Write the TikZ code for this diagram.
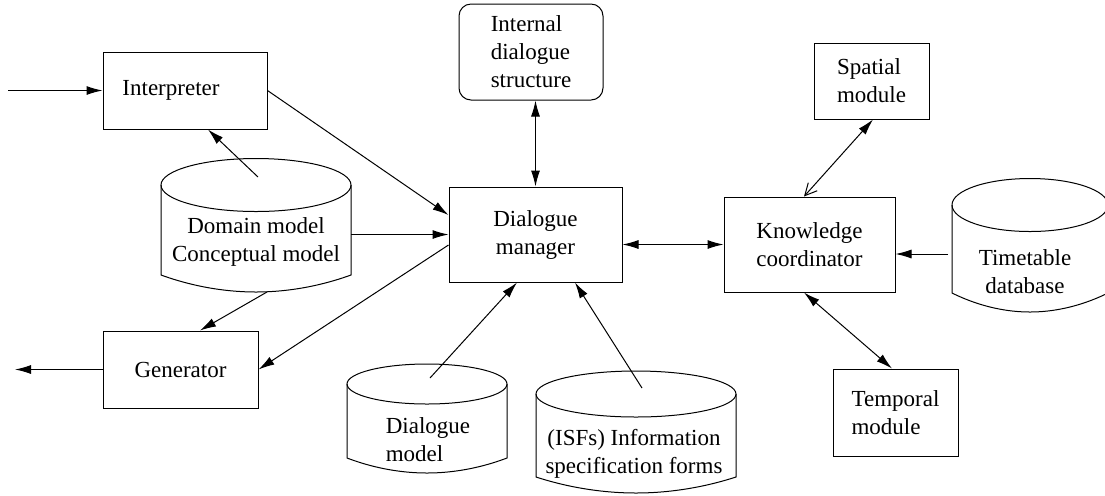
\documentclass[tikz,border=0pt]{standalone}
\usepackage{fontspec}
\setmainfont{Liberation Serif}
\usetikzlibrary{shapes,arrows.meta}

\begin{document}
\begin{tikzpicture}[x=0.5pt,y=-0.5pt,line width=0.5pt,
        box/.style={draw=black,rectangle,align=center,font=\fontsize{11.5}{14}\selectfont},
        txt/.style={align=center,font=\fontsize{11.5}{14}\selectfont},
        arr/.style={-{Latex[length=8pt,width=4.5pt]}},
        biarr/.style={{Latex[length=8pt,width=4.5pt]}-{Latex[length=8pt,width=4.5pt]}}]
        \useasboundingbox (0,0) rectangle (1105,495);
        \clip (0,0) rectangle (1105,495);
        \node [box,minimum width=82pt,minimum height=38.5pt] (interp) at (185,90.5) {Interpreter\hspace*{14pt}};
        \node [box,minimum width=77.5pt,minimum height=38.5pt] (gen) at (180.5,369.5) {Generator};
        \node [box,rounded corners=6pt,align=left,minimum width=72pt,minimum height=48pt] (ids) at (531,52) {Internal\\dialogue\\structure};
        \node [box,minimum width=86.5pt,minimum height=47.5pt] (dm) at (535.5,234.5) {Dialogue\\manager};
        \node [box,minimum width=85.5pt,minimum height=47.5pt] (kc) at (809.5,244.5) {Knowledge\\coordinator};
        \node [box,align=left,minimum width=57.5pt,minimum height=38pt] (spatial) at (871.5,81) {Spatial\\module};
        \node [box,align=left,minimum width=62.5pt,minimum height=43.5pt] (temporal) at (895.5,412.5) {Temporal\\module};
        \draw [black] (256,185) ellipse (95 and 26.5);
        \draw [black] (161,185) -- (161,275) parabola bend (256,292) (351,275) -- (351,185);
        \node [txt] (domtxt) at (256,242) {Domain model\\Conceptual model};
        \draw [black] (1030,205) ellipse (78 and 26.5);
        \draw [black] (952,205) -- (952,293) parabola bend (1030,312) (1108,293) -- (1108,205);
        \node [txt] (tttxt) at (1025,272) {Timetable\\database};
        \draw [black] (427,384) ellipse (80 and 20);
        \draw [black] (347,384) -- (347,458) parabola bend (427,473) (507,458) -- (507,384);
        \node [txt,align=left] (dmodtxt) at (428,440) {Dialogue\\model};
        \draw [black] (636,394) ellipse (100 and 23);
        \draw [black] (536,394) -- (536,477) parabola bend (636,493) (736,477) -- (736,394);
        \node [txt] (isftxt) at (634,454) {(ISFs) Information\\specification forms};
        \coordinate (input) at (8,90.5);
        \coordinate (output) at (15,369.5);
        \coordinate (domtop) at (258,177);
        \coordinate (dombot) at (267,292);
        \coordinate (domright) at (351,234.5);
        \coordinate (ttleft) at (948,254);
        \coordinate (dmodtop) at (430,378);
        \coordinate (isftop) at (642,388);
        \draw [black,arr] (input) -- (interp.west);
        \draw [black,arr] (interp.east) -- ([yshift=9.75pt]dm.west);
        \draw [black,arr] (domtop) -- ([xshift=11.5pt]interp.south);
        \draw [black,arr] (domright) -- (dm.west);
        \draw [black,arr] ([yshift=-5.25pt]dm.west) -- (gen.east);
        \draw [black,arr] (dombot) -- ([xshift=9.75pt]gen.north);
        \draw [black,arr] (gen.west) -- (output);
        \draw [black,biarr] (dm.north) -- (dm.north |- ids.south);
        \draw [black,biarr] (dm.east |- kc.west) -- (kc.west);
        \draw [black,{Straight Barb[length=6pt,width=6pt]}-{Latex[length=8pt,width=4.5pt]}] ([xshift=-2.75pt]kc.north) -- ([xshift=0.75pt]spatial.south);
        \draw [black,biarr] ([xshift=-2.75pt]kc.south) -- ([xshift=-1.75pt]temporal.north);
        \draw [black,arr] (ttleft) -- ([yshift=-4.75pt]kc.east);
        \draw [black,arr] (dmodtop) -- ([xshift=-9.25pt]dm.south);
        \draw [black,arr] (isftop) -- ([xshift=19.75pt]dm.south);
      \end{tikzpicture}
\end{document}
